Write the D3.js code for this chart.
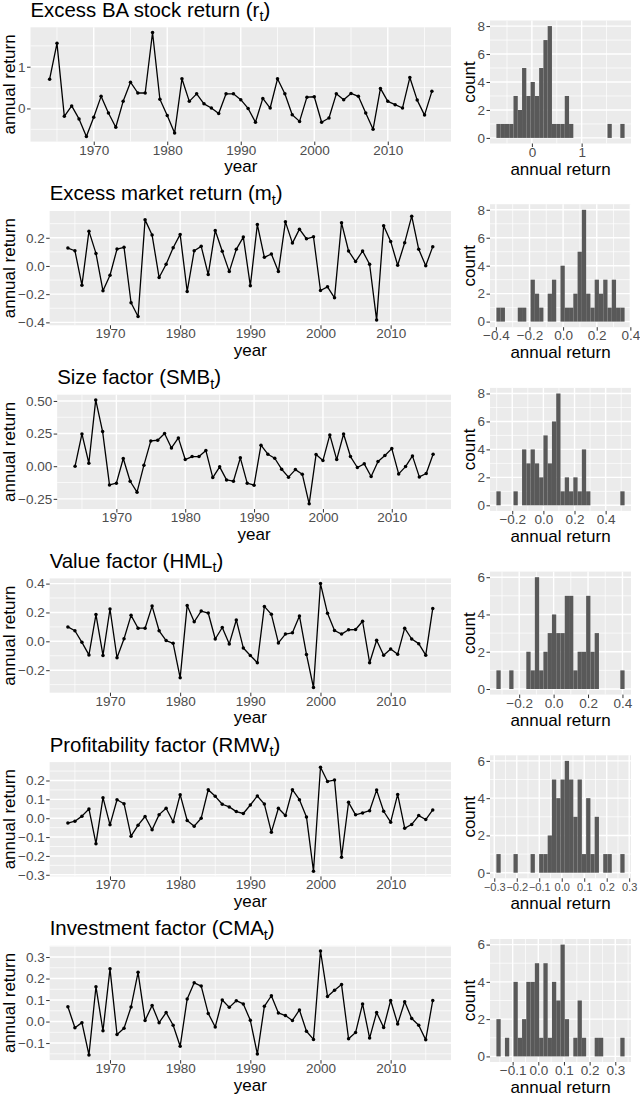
<!DOCTYPE html>
<html>
<head>
<meta charset="utf-8">
<script src="https://cdn.jsdelivr.net/npm/d3@7"></script>
<style>
  body { margin: 0; background: #fff; }
  text { font-family: "Liberation Sans", Arial, Helvetica, sans-serif; }
</style>
</head>
<body>
<div id="graph"></div>
<script>
// years on the x axis
var years = [1964,1965,1966,1967,1968,1969,1970,1971,1972,1973,
  1974,1975,1976,1977,1978,1979,1980,1981,1982,1983,
  1984,1985,1986,1987,1988,1989,1990,1991,1992,1993,
  1994,1995,1996,1997,1998,1999,2000,2001,2002,2003,
  2004,2005,2006,2007,2008,2009,2010,2011,2012,2013,
  2014,2015,2016];

// annual returns
var baReturn = [0.70,1.56,-0.19,0.06,-0.25,-0.67,-0.21,0.29,-0.11,-0.45,
  0.17,0.63,0.37,0.37,1.82,0.22,-0.17,-0.59,0.71,0.17,
  0.35,0.11,0.01,-0.12,0.35,0.35,0.21,0.00,-0.33,0.24,
  0.01,0.71,0.35,-0.15,-0.31,0.27,0.28,-0.33,-0.23,0.35,
  0.21,0.36,0.29,-0.11,-0.50,0.48,0.17,0.09,0.01,0.74,
  0.20,-0.16,0.41];
var marketReturn = [0.127,0.108,-0.136,0.247,0.089,-0.176,-0.066,0.12,0.132,-0.261,
  -0.358,0.327,0.219,-0.082,0.012,0.129,0.224,-0.181,0.108,0.139,
  -0.061,0.252,0.104,-0.04,0.118,0.205,-0.141,0.294,0.061,0.085,
  -0.04,0.313,0.162,0.261,0.193,0.207,-0.174,-0.148,-0.226,0.306,
  0.106,0.031,0.106,0.012,-0.384,0.285,0.174,0.005,0.165,0.353,
  0.118,0.002,0.137];
var smbFactor = [0.00,0.247,0.023,0.508,0.265,-0.143,-0.13,0.059,-0.115,-0.199,
  0.008,0.194,0.199,0.25,0.14,0.217,0.051,0.074,0.074,0.12,
  -0.087,-0.005,-0.105,-0.115,0.064,-0.13,-0.145,0.161,0.092,0.061,
  -0.023,-0.084,-0.026,-0.061,-0.288,0.089,0.043,0.24,0.051,0.247,
  0.074,-0.01,0.018,-0.079,0.036,0.082,0.135,-0.059,-0.003,0.079,
  -0.082,-0.056,0.092];
var hmlFactor = [0.10,0.073,-0.007,-0.094,0.185,-0.098,0.224,-0.114,0.018,0.18,
  0.091,0.091,0.244,0.073,0.005,-0.014,-0.253,0.249,0.135,0.21,
  0.196,0.016,0.096,-0.018,0.148,-0.046,-0.098,-0.148,0.242,0.187,
  -0.011,0.05,0.059,0.176,-0.091,-0.32,0.40,0.194,0.075,0.05,
  0.08,0.082,0.139,-0.148,0.007,-0.096,-0.053,-0.089,0.091,0.016,
  -0.016,-0.096,0.228];
var rmwFactor = [-0.026,-0.016,0.011,0.049,-0.135,0.109,-0.035,0.098,0.077,-0.095,
  -0.037,0.009,-0.061,0.019,0.053,-0.019,0.125,-0.012,-0.042,0.00,
  0.151,0.116,0.074,0.06,0.035,0.025,0.07,0.118,0.075,-0.074,
  0.053,0.014,0.151,0.098,0.007,-0.281,0.27,0.195,0.202,-0.207,
  0.084,0.018,0.028,0.04,0.149,0.037,-0.021,0.126,-0.053,-0.033,
  0.014,-0.007,0.044];
var cmaFactor = [0.069,-0.029,-0.005,-0.155,0.162,-0.043,0.245,-0.06,-0.031,0.068,
  0.229,0.005,0.075,-0.005,0.042,-0.017,-0.115,0.105,0.18,0.165,
  0.038,-0.025,0.10,0.066,0.097,0.082,0.006,-0.151,0.071,0.12,
  0.04,0.028,0.005,0.054,-0.045,-0.083,0.328,0.117,0.145,0.172,
  -0.08,-0.051,0.082,-0.077,0.042,-0.028,0.098,-0.011,0.092,0.014,
  -0.017,-0.085,0.098];

// histogram counts (30 bins each), read bar by bar
var baCounts     = [1,1,1,1,3,2,5,3,4,3,5,7,8,1,1,1,3,1,0,0,0,0,0,0,0,0,1,0,0,1];
var marketCounts = [1,1,0,0,0,1,1,0,3,2,1,0,2,3,0,4,1,1,2,5,8,2,1,3,2,3,1,3,1,1];
var smbCounts    = [1,0,0,0,1,0,4,3,4,3,2,5,3,6,8,1,2,1,2,1,4,1,0,0,0,0,0,0,0,1];
var hmlCounts    = [1,0,0,1,0,0,0,2,1,6,1,2,3,4,3,3,5,5,1,2,2,5,2,3,0,0,0,0,0,1];
var rmwCounts    = [1,0,0,0,1,0,0,0,1,0,1,1,2,5,4,5,6,5,3,5,1,4,1,3,0,1,1,0,0,1];
var cmaCounts    = [2,0,1,0,4,1,2,4,4,5,1,5,1,4,3,6,2,0,1,3,1,0,0,1,1,0,0,0,0,1];

// titles and ticks
var titleMain = ["Excess BA stock return (r","Excess market return (m","Size factor (SMB",
  "Value factor (HML","Profitability factor (RMW","Investment factor (CMA"];
var titleSub = ["t","t","t","t","t","t"];
var yearTicks = [1970,1980,1990,2000,2010];
var lineYTicks = [[0,1],[-0.4,-0.2,0,0.2],[-0.25,0,0.25,0.5],[-0.2,0,0.2,0.4],
  [-0.3,-0.2,-0.1,0,0.1,0.2],[-0.1,0,0.1,0.2,0.3]];
var lineYFormat = ["d",".1f",".2f",".1f",".1f",".1f"];
var histXTicks = [[0,1],[-0.4,-0.2,0,0.2,0.4],[-0.2,0,0.2,0.4],[-0.2,0,0.2,0.4],
  [-0.3,-0.2,-0.1,0,0.1,0.2,0.3],[-0.1,0,0.1,0.2,0.3]];
var histXFormat = ["d",".1f",".1f",".1f",".1f",".1f"];
var histYTicks = [[0,2,4,6,8],[0,2,4,6,8],[0,2,4,6,8],[0,2,4,6],[0,2,4,6],[0,2,4,6]];

var seriesList = [baReturn,marketReturn,smbFactor,hmlFactor,rmwFactor,cmaFactor];
var countList = [baCounts,marketCounts,smbCounts,hmlCounts,rmwCounts,cmaCounts];

var width = 640, height = 1097;
var svg = d3.select("#graph").append("svg")
    .attr("width", width).attr("height", height);

var panelBg = "#EBEBEB", tickCol = "#333333", labCol = "#4D4D4D";
var tickFont = 13.5, axisFont = 17, titleFont = 20.4;
var tickLen = 3.5, tickGap = 1.5;

// ggplot style 5% expansion
function expand(ext) {
  var d = (ext[1] - ext[0]) * 0.05;
  return [ext[0] - d, ext[1] + d];
}
// minor breaks half way between the major ones
function minors(major, dom) {
  var out = [];
  var step = major[1] - major[0];
  var all = [major[0] - step].concat(major, [major[major.length - 1] + step]);
  for (var i = 0; i < all.length - 1; i++) {
    var m = (all[i] + all[i + 1]) / 2;
    if (m >= dom[0] && m <= dom[1]) out.push(m);
  }
  return out;
}
function textWidth(str) {
  var t = svg.append("text").style("font-size", tickFont + "px").text(str);
  var w = t.node().getComputedTextLength();
  t.remove();
  return w;
}

function drawGrid(g, xs, ys, xMaj, xMin, yMaj, yMin) {
  var x0 = xs.range()[0], x1 = xs.range()[1], y0 = ys.range()[0], y1 = ys.range()[1];
  g.append("rect").attr("x", x0).attr("y", y1).attr("width", x1 - x0).attr("height", y0 - y1)
    .attr("fill", panelBg);
  g.selectAll(".xmin").data(xMin).enter().append("line")
    .attr("x1", d => xs(d)).attr("x2", d => xs(d)).attr("y1", y0).attr("y2", y1)
    .attr("stroke", "#fff").attr("stroke-width", 0.7);
  g.selectAll(".ymin").data(yMin).enter().append("line")
    .attr("y1", d => ys(d)).attr("y2", d => ys(d)).attr("x1", x0).attr("x2", x1)
    .attr("stroke", "#fff").attr("stroke-width", 0.7);
  g.selectAll(".xmaj").data(xMaj).enter().append("line")
    .attr("x1", d => xs(d)).attr("x2", d => xs(d)).attr("y1", y0).attr("y2", y1)
    .attr("stroke", "#fff").attr("stroke-width", 1.4);
  g.selectAll(".ymaj").data(yMaj).enter().append("line")
    .attr("y1", d => ys(d)).attr("y2", d => ys(d)).attr("x1", x0).attr("x2", x1)
    .attr("stroke", "#fff").attr("stroke-width", 1.4);
}

function drawAxes(g, xs, ys, xMaj, yMaj, xFmt, yFmt, xFont) {
  var ax = g.append("g").attr("transform", "translate(0," + ys.range()[0] + ")")
    .call(d3.axisBottom(xs).tickValues(xMaj).tickFormat(xFmt)
      .tickSizeInner(tickLen).tickSizeOuter(0).tickPadding(tickGap));
  var ay = g.append("g").attr("transform", "translate(" + xs.range()[0] + ",0)")
    .call(d3.axisLeft(ys).tickValues(yMaj).tickFormat(yFmt)
      .tickSizeInner(tickLen).tickSizeOuter(0).tickPadding(tickGap));
  [ax, ay].forEach(function(a) {
    a.select(".domain").remove();
    a.selectAll(".tick line").attr("stroke", tickCol).attr("stroke-width", 1);
    a.selectAll(".tick text").attr("fill", labCol).style("font-size", tickFont + "px")
      .style("font-family", "'Liberation Sans', Arial, sans-serif");
  });
  // baseline of the x labels sits ~13px under the panel
  ax.selectAll(".tick text").attr("y", 13).attr("dy", null)
    .style("font-size", (xFont || tickFont) + "px");
}

seriesList.forEach(function(series, r) {
  var top = 27.3 + 183.7 * r, bottom = top + 114.3;
  var g = svg.append("g");

  // ---- time series panel ----
  var yFmt = d3.format(lineYFormat[r]);
  var maxW = d3.max(lineYTicks[r], d => textWidth(yFmt(d)));
  var left = 18 + maxW + tickLen + tickGap, right = 451;

  var xDom = expand(d3.extent(years));
  var yDom = expand(d3.extent(series));
  var xs = d3.scaleLinear().domain(xDom).range([left, right]);
  var ys = d3.scaleLinear().domain(yDom).range([bottom, top]);

  drawGrid(g, xs, ys, yearTicks, minors(yearTicks, xDom), lineYTicks[r], minors(lineYTicks[r], yDom));

  var pts = years.map((yr, i) => [yr, series[i]]);
  g.append("path").datum(pts)
    .attr("d", d3.line().x(d => xs(d[0])).y(d => ys(d[1])))
    .attr("fill", "none").attr("stroke", "#000").attr("stroke-width", 1.3)
    .attr("stroke-linejoin", "round");
  g.selectAll(".pt").data(pts).enter().append("circle")
    .attr("cx", d => xs(d[0])).attr("cy", d => ys(d[1])).attr("r", 1.75).attr("fill", "#000");

  drawAxes(g, xs, ys, yearTicks, lineYTicks[r], d3.format("d"), yFmt);

  // title with subscript
  var tt = g.append("text").attr("x", left).attr("y", top - 10.6)
    .style("font-size", titleFont + "px").attr("fill", "#000");
  tt.append("tspan").text(titleMain[r]);
  tt.append("tspan").text(titleSub[r]).style("font-size", "14.5px").attr("dy", 4.5);
  tt.append("tspan").text(")").attr("dy", -4.5);

  g.append("text").attr("x", (left + right) / 2).attr("y", bottom + 30.5)
    .attr("text-anchor", "middle").style("font-size", axisFont + "px").text("year");
  g.append("text").attr("transform", "translate(15," + (top + bottom) / 2 + ") rotate(-90)")
    .attr("text-anchor", "middle").style("font-size", axisFont + "px").text("annual return");

  // ---- histogram panel ----
  var counts = countList[r];
  var ext = d3.extent(series);
  var bw = (ext[1] - ext[0]) / (counts.length - 1);
  var start = ext[0] - bw / 2;
  var bins = counts.map((c, i) => ({x0: start + i * bw, x1: start + (i + 1) * bw, n: c}));
  var hTop = top - 6.8, hBottom = bottom + 1.9;
  var hxDom = expand([start, start + counts.length * bw]);
  var hyDom = expand([0, d3.max(counts)]);
  var hx = d3.scaleLinear().domain(hxDom).range([490, 631]);
  var hy = d3.scaleLinear().domain(hyDom).range([hBottom, hTop]);

  drawGrid(g, hx, hy, histXTicks[r], minors(histXTicks[r], hxDom), histYTicks[r], minors(histYTicks[r], hyDom));

  g.selectAll(".bar").data(bins).enter().append("rect")
    .attr("x", d => hx(d.x0)).attr("width", d => hx(d.x1) - hx(d.x0))
    .attr("y", d => hy(d.n)).attr("height", d => hy(0) - hy(d.n))
    .attr("fill", "#595959");

  // the seven labels of the profitability panel are packed tight, so a bit smaller
  var hxFont = histXTicks[r].length > 6 ? 11 : tickFont;
  drawAxes(g, hx, hy, histXTicks[r], histYTicks[r], d3.format(histXFormat[r]), d3.format("d"), hxFont);

  g.append("text").attr("x", 560.5).attr("y", hBottom + 31)
    .attr("text-anchor", "middle").style("font-size", axisFont + "px").text("annual return");
  g.append("text").attr("transform", "translate(475," + (hTop + hBottom) / 2 + ") rotate(-90)")
    .attr("text-anchor", "middle").style("font-size", axisFont + "px").text("count");
});
</script>
</body>
</html>
